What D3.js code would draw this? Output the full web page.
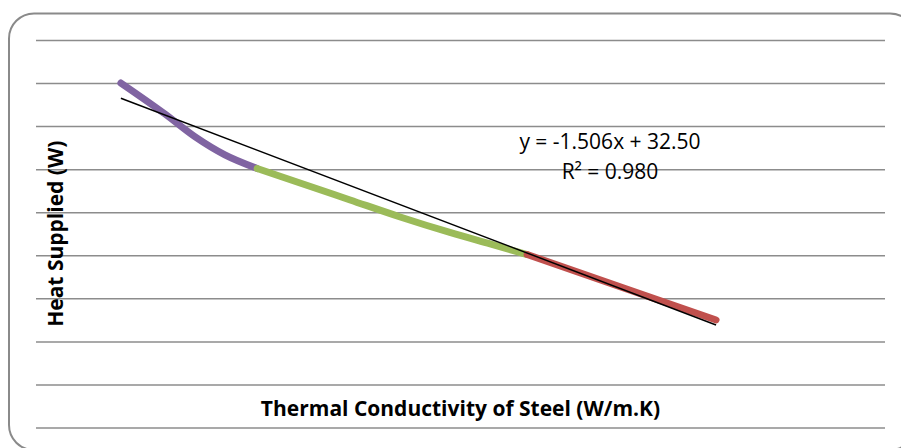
<!DOCTYPE html>
<html>
<head>
<meta charset="utf-8">
<script src="https://cdn.jsdelivr.net/npm/d3@7"></script>
<style>
  body { margin: 0; background: #fff; }
  text { font-family: "Open Sans", sans-serif; fill: #000; }
</style>
</head>
<body>
<div class="chart"></div>
<script>
// values (no axis labels shown in the original)
const yTicks = [0, 4, 8, 12, 16, 20, 24, 28, 32, 36];

const purpleX = [1.0, 2.04, 2.75, 3.45, 4.21];
const purpleY = [32.0, 29.12, 26.99, 25.32, 24.06];

const greenX = [4.21, 5.22, 6.40, 7.58, 8.75, 9.70, 10.57];
const greenY = [24.06, 22.72, 21.14, 19.56, 18.12, 17.05, 16.07];

const redX = [10.57, 12.76, 15.02];
const redY = [16.07, 13.07, 9.99];

const trendX = [1.0, 15.02];
const trendY = [30.59, 9.52];

const eqLines = ["y = -1.506x + 32.50", "R² = 0.980"];
const xTitle = "Thermal Conductivity of Steel (W/m.K)";
const yTitle = "Heat Supplied (W)";

let margin = {top: 40, right: 16, left: 36, bottom: 20.5};
let outWidth = 901;
let outHeight = 448;
let width = outWidth - margin.left - margin.right,
    height = outHeight - margin.top - margin.bottom;

const svg = d3.select('.chart').append('svg')
    .attr("width", outWidth)
    .attr("height", outHeight);

// rounded chart frame
svg.append("rect")
    .attr("x", 9)
    .attr("y", 13.5)
    .attr("width", 906)
    .attr("height", 436.5)
    .attr("rx", 25)
    .attr("fill", "none")
    .attr("stroke", "#8a8a8a")
    .attr("stroke-width", 2);

const g = svg.append("g")
    .attr("transform", `translate(${margin.left}, ${margin.top})`);

const xScale = d3.scaleLinear()
    .domain([-1, 19])
    .range([0, width]);
const yScale = d3.scaleLinear()
    .domain([0, 36])
    .range([height, 0]);

const yGrid = d3.axisLeft(yScale)
    .tickValues(yTicks)
    .tickSize(-width)
    .tickFormat("");

g.append("g")
    .attr("class", "grid")
    .call(yGrid)
    .call(s => s.select(".domain").remove())
    .selectAll("line")
    .attr("stroke", "#8c8c8c")
    .attr("stroke-width", 1.5);

const line = d3.line()
    .x(d => xScale(d[0]))
    .y(d => yScale(d[1]))
    .curve(d3.curveMonotoneX);

const series = [
    {x: purpleX, y: purpleY, color: "#8064a2"},
    {x: greenX, y: greenY, color: "#9bbb59"},
    {x: redX, y: redY, color: "#c0504d"}
];

g.selectAll(".series")
    .data(series)
    .enter()
    .append("path")
    .attr("class", "series")
    .attr("d", d => line(d.x.map((v, i) => [v, d.y[i]])))
    .attr("fill", "none")
    .attr("stroke", d => d.color)
    .attr("stroke-width", 7)
    .attr("stroke-linecap", "round")
    .attr("stroke-linejoin", "round");

// linear trendline
g.append("path")
    .attr("d", d3.line().x(d => xScale(d[0])).y(d => yScale(d[1]))(trendX.map((v, i) => [v, trendY[i]])))
    .attr("fill", "none")
    .attr("stroke", "#000")
    .attr("stroke-width", 1.5);

// equation label
g.selectAll(".eq")
    .data(eqLines)
    .enter()
    .append("text")
    .attr("class", "eq")
    .attr("x", 574)
    .attr("y", (d, i) => 109 + i * 30.3)
    .attr("text-anchor", "middle")
    .style("font-size", "21px")
    .text(d => d);

// axis titles
g.append("text")
    .attr("x", width / 2)
    .attr("y", 376)
    .attr("text-anchor", "middle")
    .style("font-size", "21px")
    .style("font-weight", "bold")
    .text(xTitle);

g.append("text")
    .attr("transform", `translate(27, ${height / 2}) rotate(-90)`)
    .attr("text-anchor", "middle")
    .style("font-size", "21px")
    .style("font-weight", "bold")
    .text(yTitle);
</script>
</body>
</html>
